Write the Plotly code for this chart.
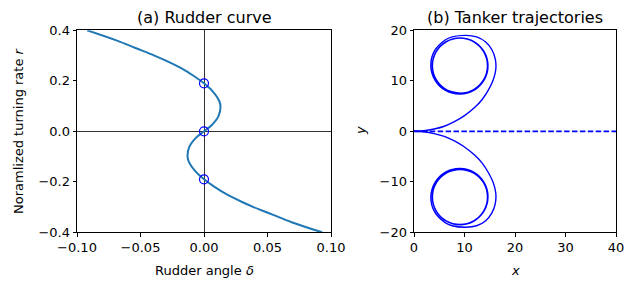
import plotly.graph_objects as go

# ---- data ----
# (a) rudder curve: normalized turning rate r vs rudder angle delta
r_vals = [0.40, 0.36, 0.33, 0.30, 0.28, 0.25, 0.22, 0.19, 0.16, 0.12, 0.097, 0.06, 0.025, 0.0,
          -0.025, -0.06, -0.097, -0.12, -0.16, -0.19, -0.22, -0.25, -0.28, -0.30, -0.33, -0.36, -0.40]
delta_vals = [-0.092, -0.069, -0.054, -0.039, -0.030, -0.018, -0.0083, 0.0, 0.0065, 0.0120, 0.0130, 0.0114, 0.0062, 0.0,
              -0.0062, -0.0114, -0.0130, -0.0120, -0.0065, 0.0, 0.0083, 0.018, 0.030, 0.039, 0.054, 0.069, 0.093]
eq_r = [0.19, 0.0, -0.19]
eq_delta = [0.0, 0.0, 0.0]

# (b) tanker trajectories (upper: positive rudder, lower: negative rudder)
up_x = [0, 2, 4, 6, 8, 10, 12, 13.5, 14.8, 15.7, 16.2, 16.1, 15.4, 14.2, 12.4, 10.3,
        7.57, 6.17, 4.06, 3.33, 4.15, 6.26, 9.1, 11.91, 13.93, 14.65, 13.89, 11.86,
        9.1, 6.36, 4.35, 3.63, 4.37, 6.37, 9.1, 11.83, 13.82, 14.55, 13.82, 11.83,
        9.1, 6.38, 4.38, 3.65, 4.38, 6.38, 9.1]
up_y = [0, 0.1, 0.45, 1.0, 1.9, 3.1, 4.7, 6.3, 8.3, 10.2, 12.3, 14.3, 16.2, 17.7, 18.7, 19.0,
        18.70, 18.08, 15.91, 13.0, 10.14, 8.08, 7.36, 8.14, 10.21, 13.0, 15.77, 17.77,
        18.5, 17.75, 15.74, 13.0, 10.27, 8.27, 7.55, 8.28, 10.28, 13.0, 15.73, 17.72,
        18.45, 17.72, 15.73, 13.0, 10.28, 8.28, 7.55]
dn_x = [0, 2, 4, 6, 8, 10, 12, 13.5, 14.8, 15.7, 16.2, 16.1, 15.4, 14.2, 12.4, 10.3,
        7.57, 6.17, 4.06, 3.33, 4.15, 6.26, 9.1, 11.91, 13.93, 14.65, 13.89, 11.86,
        9.1, 6.36, 4.35, 3.63, 4.37, 6.37, 9.1, 11.83, 13.82, 14.55, 13.82, 11.83,
        9.1, 6.38, 4.38, 3.65, 4.38, 6.38, 9.1]
dn_y = [0, -0.1, -0.45, -1.0, -1.9, -3.1, -4.7, -6.3, -8.3, -10.2, -12.3, -14.3, -16.2, -17.7, -18.7, -19.0,
        -18.70, -18.08, -15.91, -13.0, -10.14, -8.08, -7.36, -8.14, -10.21, -13.0, -15.77, -17.77,
        -18.5, -17.75, -15.74, -13.0, -10.27, -8.27, -7.55, -8.28, -10.28, -13.0, -15.73, -17.72,
        -18.45, -17.72, -15.73, -13.0, -10.28, -8.28, -7.55]
straight_x = [0, 40]
straight_y = [0, 0]

x1_ticks = [-0.1, -0.05, 0.0, 0.05, 0.1]
x1_text = ["\u22120.10", "\u22120.05", "0.00", "0.05", "0.10"]
y1_ticks = [-0.4, -0.2, 0.0, 0.2, 0.4]
y1_text = ["\u22120.4", "\u22120.2", "0.0", "0.2", "0.4"]
x2_ticks = [0, 10, 20, 30, 40]
x2_text = ["0", "10", "20", "30", "40"]
y2_ticks = [-20, -10, 0, 10, 20]
y2_text = ["\u221220", "\u221210", "0", "10", "20"]

FONT = "DejaVu Sans"
W, H = 634, 289

fig = go.Figure()
fig.add_trace(go.Scatter(x=delta_vals, y=r_vals, mode="lines", line=dict(color="#1f77b4", width=2, shape="spline", smoothing=1.0),
                         xaxis="x", yaxis="y", showlegend=False))
fig.add_trace(go.Scatter(x=eq_delta, y=eq_r, mode="markers",
                         marker=dict(symbol="circle-open", size=9, color="blue", line=dict(width=1.2, color="blue")),
                         xaxis="x", yaxis="y", showlegend=False))
for xs, ys in [(up_x, up_y), (dn_x, dn_y)]:
    fig.add_trace(go.Scatter(x=xs, y=ys, mode="lines", line=dict(color="blue", width=1.4, shape="spline", smoothing=1.0),
                             xaxis="x2", yaxis="y2", showlegend=False))
fig.add_trace(go.Scatter(x=straight_x, y=straight_y, mode="lines", line=dict(color="blue", width=1.8, dash="5.5px,2.4px"),
                         xaxis="x2", yaxis="y2", showlegend=False))

ax_common = dict(showgrid=False, showline=True, linecolor="black", linewidth=0.8, mirror=True,
                 ticks="outside", ticklen=3.5, tickwidth=0.8, tickcolor="black", automargin=False,
                 tickfont=dict(family=FONT, size=13, color="black"), tickmode="array")

fig.update_layout(
    width=W, height=H, margin=dict(l=0, r=0, t=0, b=0, autoexpand=False),
    paper_bgcolor="white", plot_bgcolor="white",
    xaxis=dict(domain=[77 / W, 331 / W], range=[-0.1, 0.1], tickvals=x1_ticks, ticktext=x1_text,
               zeroline=True, zerolinecolor="#333333", zerolinewidth=0.8, anchor="y", **ax_common),
    yaxis=dict(domain=[(H - 232.3) / H, (H - 30.3) / H], range=[-0.4, 0.4], tickvals=y1_ticks, ticktext=y1_text,
               zeroline=True, zerolinecolor="#333333", zerolinewidth=0.8, anchor="x", **ax_common),
    xaxis2=dict(domain=[414 / W, 616 / W], range=[0, 40], tickvals=x2_ticks, ticktext=x2_text,
                zeroline=False, anchor="y2", **ax_common),
    yaxis2=dict(domain=[(H - 232.3) / H, (H - 30.3) / H], range=[-20, 20], tickvals=y2_ticks, ticktext=y2_text,
                zeroline=False, anchor="x2", **ax_common),
)

def ann(text, x, y, size=13, angle=0):
    fig.add_annotation(text=text, x=x / W, y=1 - y / H, xref="paper", yref="paper", showarrow=False,
                       textangle=angle, font=dict(family=FONT, size=size, color="black"),
                       xanchor="center", yanchor="middle")

ann("(a) Rudder curve", 204, 17, size=16)
ann("(b) Tanker trajectories", 515, 17, size=16)
ann("Rudder angle <i>δ</i>", 204, 270)
ann("<i>x</i>", 515, 270)
ann("Noramlized turning rate <i>r</i>", 18, 131, angle=-90)
ann("<i>y</i>", 360, 131, angle=-90)

fig.write_html("out.html")
